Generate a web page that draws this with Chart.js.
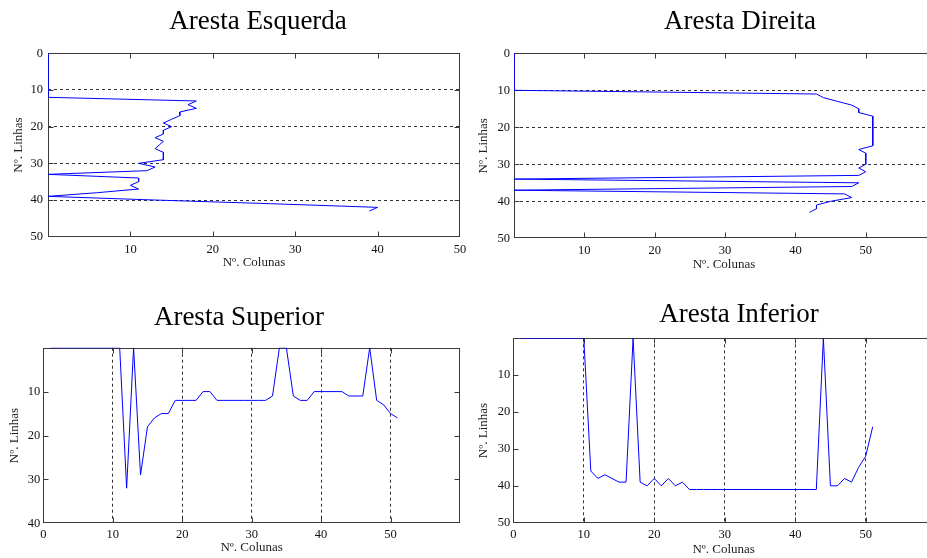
<!DOCTYPE html>
<html>
<head>
<meta charset="utf-8">
<script src="https://cdn.jsdelivr.net/npm/chart.js@4"></script>
<style>
  html, body { margin: 0; padding: 0; background: #fff; overflow: hidden; }
  body { width: 927px; height: 558px; position: relative; }
  .box { position: absolute; }
</style>
</head>
<body>
<div class="box" style="left:0;top:0;width:516px;height:280px"><canvas id="esq"></canvas></div>
<div class="box" style="left:470px;top:0;width:540px;height:280px"><canvas id="dir"></canvas></div>
<div class="box" style="left:0;top:290px;width:478px;height:270px"><canvas id="sup"></canvas></div>
<div class="box" style="left:470px;top:290px;width:538px;height:270px"><canvas id="inf"></canvas></div>
<script>
// ---------- Data ----------
// Aresta Esquerda / Direita: coluna da aresta para cada linha
const linhasLat = [0, 1, 2, 3, 4, 5, 6, 7, 8, 9, 10, 11, 12, 13, 14, 15, 16, 17, 18, 19, 20, 21,
  22, 23, 24, 25, 26, 27, 28, 29, 30, 31, 32, 33, 34, 35, 36, 37, 38, 39, 40, 41, 42, 43];
const colunasEsquerda = [0, 0, 0, 0, 0, 0, 0, 0, 0, 0, 0, 0, 0, 18, 17, 18, 16, 16, 15, 14, 15, 14,
  14, 13, 14, 13.5, 13, 14, 14, 14, 11, 13, 12, 0, 11, 11, 10, 11, 6, 0, 13, 27, 40, 39];
const colunasDireita = [0, 0, 0, 0, 0, 0, 0, 0, 0, 0, 0, 43, 44, 46, 48, 49, 49, 51, 51, 51, 51, 51,
  51, 51, 51, 51, 49, 50, 50, 50, 50, 49, 50, 49, 0, 49, 48, 0, 47, 48, 45, 43, 43, 42];

// Aresta Superior / Inferior: linha da aresta para cada coluna
const colunasHoriz = [1, 2, 3, 4, 5, 6, 7, 8, 9, 10, 11, 12, 13, 14, 15, 16, 17, 18, 19, 20, 21, 22,
  23, 24, 25, 26, 27, 28, 29, 30, 31, 32, 33, 34, 35, 36, 37, 38, 39, 40, 41, 42, 43, 44, 45, 46,
  47, 48, 49, 50, 51];
const linhasSuperior = [0, 0, 0, 0, 0, 0, 0, 0, 0, 0, 0, 32, 0, 29, 18, 16, 15, 15, 12, 12, 12, 12,
  10, 10, 12, 12, 12, 12, 12, 12, 12, 12, 11, 0, 0, 11, 12, 12, 10, 10, 10, 10, 10, 11, 11, 11,
  0, 12, 13, 15, 16];
const linhasInferior = [0, 0, 0, 0, 0, 0, 0, 0, 0, 0, 36, 38, 37, 38, 39, 39, 0, 39, 40, 38, 40, 38,
  40, 39, 41, 41, 41, 41, 41, 41, 41, 41, 41, 41, 41, 41, 41, 41, 41, 41, 41, 41, 41, 0, 40, 40,
  38, 39, 35, 32, 24];

// ---------- Styles ----------
const SERIF = "'Liberation Serif', 'Times New Roman', serif";
const LINE_BLUE = "#0000ff";
const AXIS_GREY = "#3a3a3a";

// MATLAB-like box with inward ticks
const matlabBox = {
  id: "matlabBox",
  beforeDatasetsDraw(chart) {
    const { ctx, chartArea: a, scales } = chart;
    const L = Math.round(a.left) + 0.5, R = Math.round(a.right) - 0.5;
    const T = Math.round(a.top) + 0.5, B = Math.round(a.bottom) - 0.5;
    ctx.save();
    ctx.strokeStyle = AXIS_GREY;
    ctx.lineWidth = 1;
    ctx.strokeRect(L, T, R - L, B - T);
    ctx.beginPath();
    for (const t of scales.x.ticks) {
      if (t.value % 10 !== 0) continue;
      const px = Math.round(scales.x.getPixelForValue(t.value)) + 0.5;
      if (px <= L + 1 || px >= R - 1) continue;
      ctx.moveTo(px, B); ctx.lineTo(px, B - 5);
      ctx.moveTo(px, T); ctx.lineTo(px, T + 5);
    }
    for (const t of scales.y.ticks) {
      if (t.value % 10 !== 0) continue;
      const py = Math.round(scales.y.getPixelForValue(t.value)) + 0.5;
      if (py <= T + 1 || py >= B - 1) continue;
      ctx.moveTo(L, py); ctx.lineTo(L + 5, py);
      ctx.moveTo(R, py); ctx.lineTo(R - 5, py);
    }
    ctx.stroke();
    ctx.restore();
  },
};

function gridColor(max) {
  return (c) => (c.tick && c.tick.value % 10 === 0 && c.tick.value > 0 && c.tick.value < max
    ? "#333333" : "rgba(0,0,0,0)");
}

function tickLabel(hideZero, hideAbove) {
  return (v) => (v % 10 !== 0 || (hideZero && v === 0) || v > hideAbove ? "" : v);
}

function makeChart(id, cfg) {
  const data = cfg.xs.map((x, i) => ({ x, y: cfg.ys[i] }));
  const tickFont = { family: SERIF, size: 12.5, weight: "normal" };
  return new Chart(document.getElementById(id), {
    type: "scatter",
    data: {
      datasets: [{
        data,
        showLine: true,
        borderColor: LINE_BLUE,
        borderWidth: 1,
        pointRadius: 0,
        tension: 0,
      }],
    },
    plugins: [matlabBox],
    options: {
      responsive: true,
      maintainAspectRatio: false,
      animation: false,
      devicePixelRatio: 1,
      layout: { padding: 0 },
      plugins: {
        legend: { display: false },
        tooltip: { enabled: false },
        title: {
          display: true,
          text: cfg.title,
          color: "#000",
          font: { family: SERIF, size: 27, weight: "normal", lineHeight: 1.2 },
          padding: { top: cfg.titleTop, bottom: cfg.titleBottom },
        },
      },
      scales: {
        x: {
          type: "linear",
          min: 0,
          max: cfg.xMax,
          afterFit: (s) => { s.height = cfg.xHeight; },
          grid: { display: cfg.xGrid, drawTicks: false, color: gridColor(cfg.xMax) },
          border: { display: false, dash: [3, 3] },
          ticks: {
            stepSize: 10, autoSkip: false, maxRotation: 0,
            padding: cfg.xTickPad, color: "#111",
            font: tickFont,
            callback: tickLabel(cfg.hideX0, 50),
          },
          title: {
            display: true, text: "Nº. Colunas", color: "#222",
            font: { family: SERIF, size: 13 },
            padding: { top: 0, bottom: cfg.xTitlePad },
          },
        },
        y: {
          type: "linear",
          reverse: true,
          min: 0,
          max: cfg.yMax,
          afterFit: (s) => { s.width = cfg.yWidth; },
          grid: { display: !cfg.xGrid, drawTicks: false, color: gridColor(cfg.yMax) },
          border: { display: false, dash: [3, 3] },
          ticks: {
            stepSize: 10, autoSkip: false,
            padding: cfg.yTickPad, color: "#111",
            font: tickFont,
            callback: tickLabel(cfg.hideY0, 50),
          },
          title: {
            display: true, text: "Nº. Linhas", color: "#222",
            font: { family: SERIF, size: 13 },
            padding: { top: cfg.yTitlePad, bottom: 0 },
          },
        },
        // empty right-hand axis: reserves space so the title stays centred on the whole figure
        margem: {
          type: "linear",
          position: "right",
          afterFit: (s) => { s.width = cfg.padRight; },
          grid: { display: false, drawTicks: false },
          border: { display: false },
          ticks: { display: false },
        },
      },
    },
  });
}

makeChart("esq", {
  title: "Aresta Esquerda", xs: colunasEsquerda, ys: linhasLat,
  xMax: 50, yMax: 50, xGrid: false, hideX0: true, hideY0: false,
  padRight: 56, yWidth: 48, xHeight: 43.3, titleTop: 5.8, titleBottom: 15.1,
  xTickPad: 6, yTickPad: 5, xTitlePad: 9.2, yTitlePad: 10.5,
});

makeChart("dir", {
  title: "Aresta Direita", xs: colunasDireita, ys: linhasLat,
  xMax: 59.7, yMax: 50, xGrid: false, hideX0: true, hideY0: false,
  padRight: 76, yWidth: 44, xHeight: 41.7, titleTop: 5.8, titleBottom: 15.1,
  xTickPad: 5, yTickPad: 4, xTitlePad: 7.2, yTitlePad: 6.2,
});

makeChart("sup", {
  title: "Aresta Superior", xs: colunasHoriz, ys: linhasSuperior,
  xMax: 60, yMax: 40, xGrid: true, hideX0: false, hideY0: true,
  padRight: 18, yWidth: 43.3, xHeight: 36.7, titleTop: 11.3, titleBottom: 14,
  xTickPad: 4.4, yTickPad: 3, xTitlePad: 4.2, yTitlePad: 6.4,
});

makeChart("inf", {
  title: "Aresta Inferior", xs: colunasHoriz, ys: linhasInferior,
  xMax: 59.7, yMax: 50, xGrid: true, hideX0: false, hideY0: true,
  padRight: 74, yWidth: 43.3, xHeight: 37.3, titleTop: 9.1, titleBottom: 6.8,
  xTickPad: 5, yTickPad: 3, xTitlePad: 2.2, yTitlePad: 5.9,
});
</script>
</body>
</html>
